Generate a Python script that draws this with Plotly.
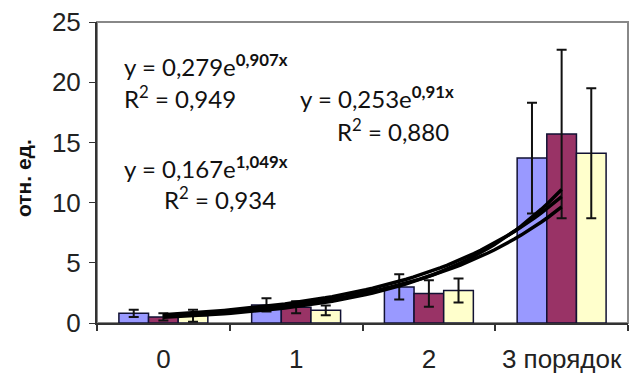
import numpy as np
import plotly.graph_objects as go

categories = [0, 1, 2, 3]
tick_labels = ["0", "1", "2", "3 порядок"]

series1 = [0.8, 1.5, 3.0, 13.7]
series1_err = [0.3, 0.55, 1.05, 4.6]
series2 = [0.5, 1.3, 2.45, 15.7]
series2_err = [0.3, 0.5, 1.1, 7.0]
series3 = [0.6, 1.05, 2.7, 14.1]
series3_err = [0.5, 0.4, 1.0, 5.4]

colors = ["#9999FF", "#993366", "#FFFFCC"]

# exponential trend coefficients (y = a*e^(b*n), n = 1..4)
trend_a = [0.279, 0.167, 0.253]
trend_b = [0.907, 1.049, 0.91]

fig = go.Figure()
for vals, errs, col in zip([series1, series2, series3],
                           [series1_err, series2_err, series3_err], colors):
    fig.add_trace(go.Bar(
        x=categories, y=vals, marker=dict(color=col, line=dict(color="#111133", width=1.5)),
        error_y=dict(type="data", array=errs, visible=True, color="#111111",
                     thickness=2, width=5),
        showlegend=False))

xs = np.linspace(0, 3, 60)
for a, b in zip(trend_a, trend_b):
    fig.add_trace(go.Scatter(x=xs, y=a * np.exp(b * (xs + 1)), mode="lines",
                             line=dict(color="black", width=3.5), showlegend=False))

# plot area in window pixels: x 97..628, y 22..323
PX0, PX1, PY0, PY1 = 97, 628, 22, 323


def px(x):
    return (x - PX0) / (PX1 - PX0)


def py(y):
    return (PY1 - y) / (PY1 - PY0)


ann_font = dict(family="Lato, Noto Sans, sans-serif", size=24, color="#111111")
anns = [
    (122, 65, "y = 0,279e<sup><b>0,907x</b></sup>"),
    (122, 97, "R<sup>2</sup> = 0,949"),
    (298, 97, "y = 0,253e<sup><b>0,91x</b></sup>"),
    (335, 130, "R<sup>2</sup> = 0,880"),
    (122, 167, "y = 0,167e<sup><b>1,049x</b></sup>"),
    (162, 198, "R<sup>2</sup> = 0,934"),
]
for x, y, t in anns:
    fig.add_annotation(x=px(x), y=py(y), xref="paper", yref="paper",
                       text=t, showarrow=False, xanchor="left", yanchor="middle",
                       font=ann_font)

fig.add_annotation(x=px(23), y=py(178), xref="paper", yref="paper", text="<b>отн. ед.</b>",
                   textangle=-90, showarrow=False, xanchor="center", yanchor="middle",
                   borderpad=0,
                   font=dict(family="Liberation Sans, Arial, sans-serif", size=21, color="#111111"))

fig.add_shape(type="rect", xref="paper", yref="paper", x0=0, y0=0, x1=1, y1=1,
              line=dict(color="#888888", width=2), layer="below")

# page body has an 8px default margin, so the figure is offset by 8px
fig.update_layout(
    width=632, height=378,
    margin=dict(l=PX0 - 8, r=640 - PX1 - 8 + 8, t=PY0 - 8, b=386 - PY1 - 8 + 8),
    paper_bgcolor="white", plot_bgcolor="white",
    barmode="group", bargap=0.33, bargroupgap=0,
    font=dict(family="Liberation Sans, Arial, sans-serif", size=26, color="#222222"),
    xaxis=dict(range=[-0.5, 3.5], tickvals=categories, ticktext=tick_labels,
               ticks="", showgrid=False, zeroline=False, automargin=False,
               ticklabelstandoff=12, ticklabeloverflow="allow",
               showline=True, linecolor="#333333", linewidth=2,
               minor=dict(tickvals=[-0.5, 0.5, 1.5, 2.5, 3.5], ticks="outside",
                          ticklen=6, tickcolor="#333333", tickwidth=1.5)),
    yaxis=dict(range=[0, 25], tickvals=[0, 5, 10, 15, 20, 25], ticks="outside",
               ticklen=6, tickcolor="#333333", showgrid=False, zeroline=False,
               automargin=False, ticklabeloverflow="allow", ticklabelstandoff=3,
               showline=True, linecolor="#333333", linewidth=2),
)

fig.write_html("out.html")
